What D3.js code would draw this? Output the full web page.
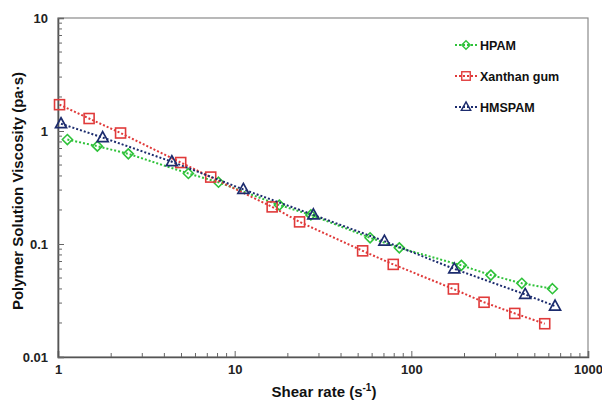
<!DOCTYPE html>
<html>
<head>
<meta charset="utf-8">
<script src="https://cdn.jsdelivr.net/npm/d3@7"></script>
<style>
  body { margin: 0; background: #fff; }
  svg text { font-family: "Liberation Sans", Arial, sans-serif; font-weight: bold; fill: #111; }
</style>
</head>
<body>
<div id="chart"></div>
<script>
// shear rate (1/s) and viscosity (pa.s)
var hpamX = [1.13, 1.67, 2.5, 5.47, 8.1, 17.9, 27, 58.4, 85.5, 192, 282, 422, 629];
var hpamY = [0.84, 0.734, 0.628, 0.421, 0.352, 0.221, 0.181, 0.1135, 0.0925, 0.0647, 0.0531, 0.0449, 0.0402];

var xanthanX = [1.02, 1.5, 2.26, 4.95, 7.32, 16.3, 23.3, 53, 79, 173, 258, 385, 569];
var xanthanY = [1.71, 1.29, 0.96, 0.526, 0.391, 0.213, 0.157, 0.087, 0.066, 0.040, 0.0305, 0.0243, 0.0197];

var hmspamX = [1.04, 1.79, 4.41, 11.2, 27.9, 70.4, 175, 441, 651];
var hmspamY = [1.16, 0.875, 0.535, 0.304, 0.181, 0.106, 0.0602, 0.0358, 0.0282];

var seriesNames = ["HPAM", "Xanthan gum", "HMSPAM"];
var xTicks = [1, 10, 100, 1000];
var yTicks = [0.01, 0.1, 1, 10];

var width = 602, height = 401;
var margin = {left: 58, right: 14, top: 18, bottom: 44};

var svg = d3.select("#chart").append("svg")
	.attr("width", width)
	.attr("height", height);

var x = d3.scaleLog().domain([1, 1000]).range([margin.left, width - margin.right]);
var y = d3.scaleLog().domain([0.01, 10]).range([height - margin.bottom, margin.top]);

// frame (top + right)
svg.append("rect")
	.attr("x", x(1)).attr("y", y(10))
	.attr("width", x(1000) - x(1)).attr("height", y(0.01) - y(10))
	.style("fill", "none").style("stroke", "#8a8a8a").style("stroke-width", 1.2);

// minor ticks, all pointing inward
var minorX = [], minorY = [];
for (var d = 1; d < 1000; d *= 10) for (var k = 2; k <= 9; k++) minorX.push(d * k);
for (var d2 = 0.01; d2 < 9; d2 *= 10) for (var k2 = 2; k2 <= 9; k2++) minorY.push(d2 * k2);

var xAxis = d3.axisBottom(x).tickValues(xTicks).tickFormat(d3.format("")).tickSize(-6).tickPadding(8);
var yAxis = d3.axisLeft(y).tickValues(yTicks).tickFormat(function(v) { return String(+v.toPrecision(2)); }).tickSize(-6).tickPadding(10);

var gx = svg.append("g").attr("transform", "translate(0," + y(0.01) + ")").call(xAxis);
var gy = svg.append("g").attr("transform", "translate(" + x(1) + ",0)").call(yAxis);

gx.selectAll(".tick.minor").data(minorX).enter().append("line")
	.attr("x1", function(v) { return x(v); }).attr("x2", function(v) { return x(v); })
	.attr("y1", 0).attr("y2", -4);
gy.selectAll(".tick.minor").data(minorY).enter().append("line")
	.attr("y1", function(v) { return y(v); }).attr("y2", function(v) { return y(v); })
	.attr("x1", 0).attr("x2", 4);

[gx, gy].forEach(function(g) {
	g.selectAll("path.domain").style("stroke", "#555").style("stroke-width", 1.6);
	g.selectAll("line").style("stroke", "#666").style("stroke-width", 1);
	g.selectAll("text").style("font-size", "13px").style("fill", "#222");
});

// axis titles
svg.append("text")
	.attr("x", 324).attr("y", 397)
	.attr("text-anchor", "middle").style("font-size", "15px")
	.html('Shear rate (s<tspan dy="-6" font-size="10px">-1</tspan><tspan dy="6">)</tspan>');

svg.append("text")
	.attr("transform", "translate(23,191) rotate(-90)")
	.attr("text-anchor", "middle").style("font-size", "15px")
	.text("Polymer Solution Viscosity (pa\u00b7s)");

var series = [
	{name: seriesNames[0], xs: hpamX, ys: hpamY, color: "#2fc23a", shape: "diamond"},
	{name: seriesNames[1], xs: xanthanX, ys: xanthanY, color: "#e03a3a", shape: "square"},
	{name: seriesNames[2], xs: hmspamX, ys: hmspamY, color: "#1c2c6e", shape: "triangle"}
];

var line = d3.line().x(function(p) { return x(p[0]); }).y(function(p) { return y(p[1]); });

function marker(g, shape, color) {
	if (shape === "square") {
		g.append("rect").attr("x", -5).attr("y", -5).attr("width", 10).attr("height", 10)
			.style("fill", "none").style("stroke", color).style("stroke-width", 1.6);
	} else if (shape === "diamond") {
		g.append("path").attr("d", "M0,-5L5,0L0,5L-5,0Z")
			.style("fill", "none").style("stroke", color).style("stroke-width", 1.6);
	} else {
		g.append("path").attr("d", "M0,-6L5.5,4L-5.5,4Z")
			.style("fill", "none").style("stroke", color).style("stroke-width", 1.7);
	}
}

series.forEach(function(s) {
	var pts = s.xs.map(function(v, i) { return [v, s.ys[i]]; });
	svg.append("path").datum(pts)
		.attr("d", line)
		.style("fill", "none").style("stroke", s.color)
		.style("stroke-width", 2).style("stroke-dasharray", "2,2");
	pts.forEach(function(p) {
		var g = svg.append("g").attr("transform", "translate(" + x(p[0]) + "," + y(p[1]) + ")");
		marker(g, s.shape, s.color);
	});
});

// legend
var legend = svg.append("g").attr("transform", "translate(455,45)");
series.forEach(function(s, i) {
	var row = legend.append("g").attr("transform", "translate(0," + (i * 31) + ")");
	row.append("line").attr("x1", 0).attr("x2", 22).attr("y1", 0).attr("y2", 0)
		.style("stroke", s.color).style("stroke-width", 2).style("stroke-dasharray", "2,2");
	var m = row.append("g").attr("transform", "translate(11,0) scale(0.85)");
	marker(m, s.shape, s.color);
	row.append("text").attr("x", 25).attr("y", 4.5).style("font-size", "12.5px").text(s.name);
});
</script>
</body>
</html>
